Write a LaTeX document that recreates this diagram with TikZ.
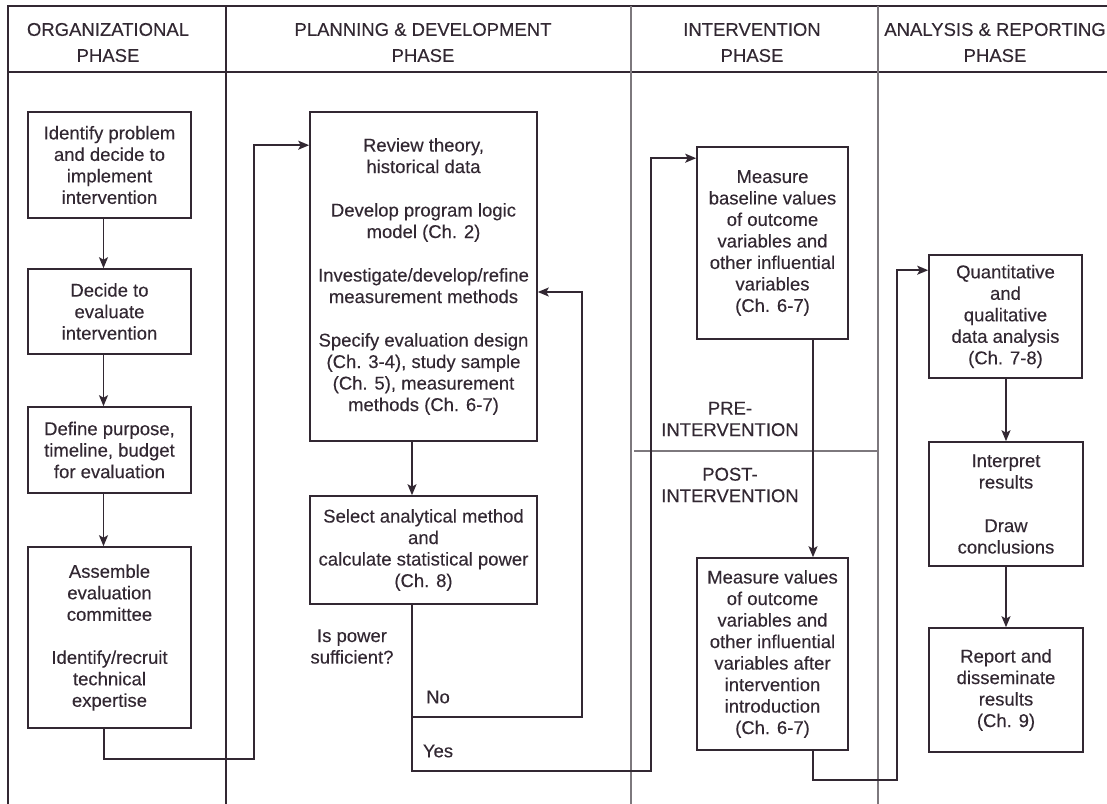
\documentclass[tikz,border=0pt]{standalone}
\usepackage{fontspec}
\setmainfont{Liberation Sans}[FakeBold=0.25]
\usetikzlibrary{arrows.meta}
\definecolor{ink}{RGB}{50,40,50}
\definecolor{divider}{RGB}{125,120,125}
\tikzset{
  txt/.style={font=\fontsize{18.5bp}{21.5bp}\selectfont, text=ink, align=center, inner sep=0pt},
  hdr/.style={font=\fontsize{18.5bp}{26bp}\selectfont, text=ink, align=center, inner sep=0pt},
  box/.style={txt, draw=ink, line width=1.6bp},
  frame/.style={draw=ink, line width=1.4bp},
  divl/.style={draw=divider, line width=1.4bp},
  arr/.style={draw=ink, line width=1.6bp, -{Stealth[length=11bp,width=9bp,inset=2.5bp]}},
}
\begin{document}
\begin{tikzpicture}[x=1bp,y=-1bp]
\useasboundingbox (0,0) rectangle (1107,804);
% frame
\draw[frame] (1107,6) -- (8,6) -- (8,804);
\draw[frame] (8,72) -- (1107,72);
\draw[frame] (226,6) -- (226,804);
\draw[divl] (631,6) -- (631,804);
\draw[divl] (878,6) -- (878,804);
\draw[divl] (634,451) -- (877,451);
% headers
\node[hdr] (h1) at (108,42.5) {ORGANIZATIONAL\\PHASE};
\node[hdr] (h2) at (423,42.5) {PLANNING \& DEVELOPMENT\\PHASE};
\node[hdr] (h3) at (752,42.5) {INTERVENTION\\PHASE};
\node[hdr] (h4) at (995,42.5) {ANALYSIS \& REPORTING\\PHASE};
% organizational
\node[box, minimum width=163bp, minimum height=106bp] (b1) at (109.5,165) {Identify problem\\and decide to\\implement\\intervention};
\node[box, minimum width=163bp, minimum height=85bp] (b2) at (109.5,311.5) {Decide to\\evaluate\\intervention};
\node[box, minimum width=163bp, minimum height=86bp] (b3) at (109.5,450) {Define purpose,\\timeline, budget\\for evaluation};
\node[box, minimum width=163bp, minimum height=181bp] (b4) at (109.5,637.5) {Assemble\\evaluation\\committee\\[21.5bp]Identify/recruit\\technical\\expertise};
% planning
\node[box, minimum width=227bp, minimum height=329bp] (p1) at (423.5,276.5) {Review theory,\\historical data\\[22bp]Develop program logic\\model (Ch. 2)\\[22bp]Investigate/develop/refine\\measurement methods\\[22bp]Specify evaluation design\\(Ch. 3-4), study sample\\(Ch. 5), measurement\\methods (Ch. 6-7)};
\node[box, minimum width=227bp, minimum height=108bp] (p2) at (423.5,550) {Select analytical method\\and\\calculate statistical power\\(Ch. 8)};
\node[txt] (q) at (352,646.5) {Is power\\sufficient?};
\node[txt] (no) at (438,697) {No};
\node[txt] (yes) at (438,751) {Yes};
% intervention
\node[box, minimum width=151bp, minimum height=192bp] (i1) at (772.5,243) {Measure\\baseline values\\of outcome\\variables and\\other influential\\variables\\(Ch. 6-7)};
\node[txt] (pre) at (730,419) {PRE-\\INTERVENTION};
\node[txt] (post) at (730,485) {POST-\\INTERVENTION};
\node[box, minimum width=151bp, minimum height=192bp] (i2) at (772.5,654) {Measure values\\of outcome\\variables and\\other influential\\variables after\\intervention\\introduction\\(Ch. 6-7)};
% analysis
\node[box, minimum width=153bp, minimum height=123bp] (a1) at (1005.5,316.5) {Quantitative\\and\\qualitative\\data analysis\\(Ch. 7-8)};
\node[box, minimum width=154bp, minimum height=124bp] (a2) at (1006,504) {Interpret\\results\\[22bp]Draw\\conclusions};
\node[box, minimum width=154bp, minimum height=124bp] (a3) at (1006,690) {Report and\\disseminate\\results\\(Ch. 9)};
% connector corners
\coordinate (c1) at (254,759);
\coordinate (cno) at (582,717);
\coordinate (cyes) at (651,771);
\coordinate (c3) at (897,780);
% connectors
\draw[arr] ([xshift=-6bp]b1.south) -- ([xshift=-6bp]b2.north);
\draw[arr] ([xshift=-6bp]b2.south) -- ([xshift=-6bp]b3.north);
\draw[arr] ([xshift=-6bp]b3.south) -- ([xshift=-6bp]b4.north);
\draw[arr] ([xshift=-5.5bp]b4.south) |- (c1) |- ([yshift=-34bp]p1.north west);
\draw[arr] ([xshift=-11.5bp]p1.south) -- ([xshift=-11.5bp]p2.north);
\draw[arr] ([xshift=-11.5bp]p2.south) |- (cno) |- ([yshift=-15.5bp]p1.east);
\draw[arr] ([xshift=-11.5bp]p2.south) |- (cyes) |- ([yshift=-12bp]i1.north west);
\draw[arr] ([xshift=40.5bp]i1.south) -- ([xshift=40.5bp]i2.north);
\draw[arr] ([xshift=40.5bp]i2.south) |- (c3) |- ([yshift=-16bp]a1.north west);
\draw[arr] ([xshift=0.5bp]a1.south) -- (a2.north);
\draw[arr] (a2.south) -- (a3.north);
\end{tikzpicture}
\end{document}
